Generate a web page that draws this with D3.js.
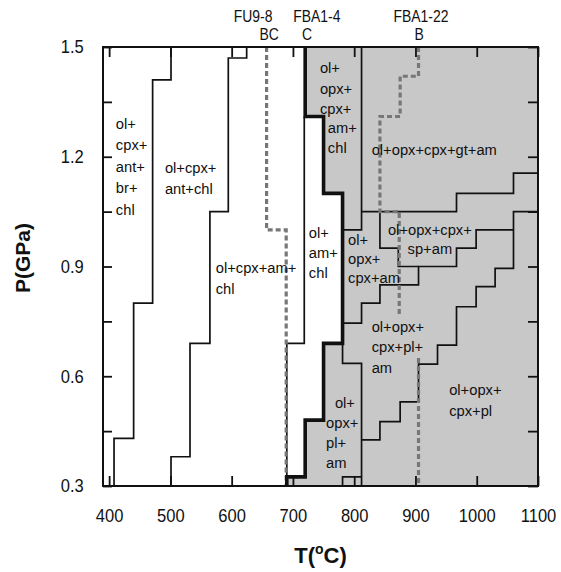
<!DOCTYPE html>
<html>
<head>
<meta charset="utf-8">
<script src="https://cdn.jsdelivr.net/npm/d3@7"></script>
<style>
  html, body { margin: 0; padding: 0; background: #fff; }
  svg { display: block; font-family: "Liberation Sans", Arial, Helvetica, sans-serif; }
</style>
</head>
<body>
<svg id="chart" width="561" height="572"></svg>
<script>
// Axis ticks
const tempTicks = [400, 500, 600, 700, 800, 900, 1000, 1100];
const presTicks = [0.3, 0.45, 0.6, 0.75, 0.9, 1.05, 1.2, 1.35, 1.5];
const presLabelled = [0.3, 0.6, 0.9, 1.2, 1.5];

// Phase boundaries, [T (°C), P (GPa)]
const brAntBoundary = [[501, 1.5], [501, 1.41], [471, 1.41], [471, 0.8], [440, 0.8], [440, 0.43], [408, 0.43], [408, 0.3]];
const antOutBoundary = [[624.5, 1.5], [624.5, 1.47], [594.5, 1.47], [594.5, 1.05], [564.5, 1.05], [564.5, 0.69], [532, 0.69], [532, 0.38], [501, 0.38], [501, 0.3]];
const cpxOutBoundary = [[718.5, 1.31], [718.5, 0.69], [690, 0.69], [690, 0.3]];
const opxInBoundary = [[720, 1.5], [720, 1.31], [750, 1.31], [750, 1.10], [781, 1.10], [781, 0.69], [750, 0.69], [750, 0.48], [720, 0.48], [720, 0.325], [690, 0.325], [690, 0.3]];
const chlOutBoundary = [[812, 1.5], [812, 1.0], [781, 1.0]];
const gtInBoundary = [[812, 1.05], [967, 1.05], [967, 1.10], [1060, 1.10], [1060, 1.155], [1100, 1.155]];
const spAmBoundary = [[842, 1.05], [842, 0.95], [872, 0.95], [872, 0.90], [905, 0.90]];
const plInBoundary = [[1060, 1.0], [999, 1.0], [999, 0.95], [967, 0.95], [967, 0.90], [905, 0.90], [905, 0.85], [842, 0.85], [842, 0.80], [812, 0.80], [812, 0.745], [781, 0.745]];
const amOutBoundary = [[1100, 1.05], [1060, 1.05], [1060, 0.895], [1030, 0.895], [1030, 0.845], [999, 0.845], [999, 0.79], [967, 0.79], [967, 0.685], [936, 0.685], [936, 0.633], [905, 0.633], [905, 0.53], [875, 0.53], [875, 0.476], [842, 0.476], [842, 0.426], [812, 0.426]];
const cpxInBoundary = [[781, 0.69], [781, 0.635], [812, 0.635], [812, 0.3]];
const cpxInFoot = [[781, 0.3], [781, 0.325], [812, 0.325]];

// Sample paths (dashed)
const pathFU98 = [[657, 1.5], [657, 1.0], [689, 1.0], [689, 0.3]];
const pathFBA122upper = [[905, 1.5], [905, 1.42], [875, 1.42], [875, 1.31], [842, 1.31], [842, 1.05], [873.5, 1.05], [873.5, 0.77]];
const pathFBA122lower = [[905, 0.65], [905, 0.3]];

// Sample names above the frame
const sampleNames = [
  { text: "FU9-8", T: 635, row: 0 },
  { text: "BC", T: 661, row: 1 },
  { text: "FBA1-4", T: 739, row: 0 },
  { text: "C", T: 723, row: 1 },
  { text: "FBA1-22", T: 909, row: 0 },
  { text: "B", T: 906, row: 1 }
];

// Assemblage labels, anchored at the first baseline in (T, P)
const fieldLabels = [
  { lines: ["ol+", "cpx+", "ant+", "br+", "chl"], T: 411, P: 1.276, gap: 21.5, anchor: "start" },
  { lines: ["ol+cpx+", "ant+chl"], T: 491, P: 1.156, gap: 21.5, anchor: "start" },
  { lines: ["ol+cpx+am+", "chl"], T: 574, P: 0.881, gap: 20.5, anchor: "start" },
  { lines: ["ol+", "opx+", "cpx+"], T: 744, P: 1.428, gap: 20.3, anchor: "start" },
  { lines: ["am+", "chl"], T: 757, P: 1.264, gap: 20, anchor: "start" },
  { lines: ["ol+", "am+", "chl"], T: 726, P: 0.977, gap: 20, anchor: "start" },
  { lines: ["ol+", "opx+", "cpx+am"], T: 790, P: 0.959, gap: 19, anchor: "start" },
  { lines: ["ol+opx+cpx+gt+am"], T: 828.5, P: 1.205, gap: 20, anchor: "start" },
  { lines: ["ol+opx+cpx+", "sp+am"], T: 923.5, P: 0.986, gap: 19, anchor: "middle" },
  { lines: ["ol+opx+", "cpx+pl+", "am"], T: 828.5, P: 0.722, gap: 20.5, anchor: "start" },
  { lines: ["ol+opx+", "cpx+pl"], T: 955, P: 0.549, gap: 21, anchor: "start" },
  { lines: ["ol+"], T: 768.5, P: 0.512, gap: 20, anchor: "start" },
  { lines: ["opx+", "pl+", "am"], T: 754, P: 0.458, gap: 20, anchor: "start" }
];

const svg = d3.select("#chart");
const plotLeft = 103, plotRight = 538, plotTop = 47, plotBottom = 486;

const x = d3.scaleLinear().domain([390, 1100]).range([plotLeft, plotRight]);
const y = d3.scaleLinear().domain([0.3, 1.5]).range([plotBottom, plotTop]);

const line = d3.line().x(d => x(d[0])).y(d => y(d[1]));

// Shaded field: everything on the high-temperature side of the opx-in boundary
const shaded = opxInBoundary.concat([[1100, 0.3], [1100, 1.5]]);
svg.append("path")
  .attr("d", line(shaded) + "Z")
  .attr("fill", "#c8c8c8");

// Thin boundaries
const thin = [brAntBoundary, antOutBoundary, cpxOutBoundary, chlOutBoundary, gtInBoundary,
  spAmBoundary, plInBoundary, amOutBoundary, cpxInBoundary, cpxInFoot];
svg.append("g").selectAll("path").data(thin).join("path")
  .attr("d", line)
  .attr("fill", "none")
  .attr("stroke", "#111")
  .attr("stroke-width", 1.7);

// Sample paths
svg.append("g").selectAll("path").data([pathFU98, pathFBA122upper, pathFBA122lower]).join("path")
  .attr("d", line)
  .attr("fill", "none")
  .attr("stroke", "#777")
  .attr("stroke-width", 3.2)
  .attr("stroke-dasharray", "5,3");

// Thick boundary
svg.append("path")
  .attr("d", line(opxInBoundary))
  .attr("fill", "none")
  .attr("stroke", "#111")
  .attr("stroke-width", 3.6);

// Frame
svg.append("rect")
  .attr("x", plotLeft).attr("y", plotTop)
  .attr("width", plotRight - plotLeft).attr("height", plotBottom - plotTop)
  .attr("fill", "none")
  .attr("stroke", "#111")
  .attr("stroke-width", 2);

// Axes with inward ticks
const tickStyle = g => {
  g.select(".domain").remove();
  g.selectAll(".tick line").attr("stroke", "#111").attr("stroke-width", 1.8);
};

svg.append("g")
  .attr("transform", `translate(0,${plotBottom})`)
  .call(d3.axisBottom(x).tickValues(tempTicks).tickSize(-10).tickPadding(23).tickFormat(d3.format("d")))
  .call(tickStyle)
  .call(g => g.selectAll("text")
    .attr("font-size", 18)
    .attr("fill", "#111")
    .attr("font-family", "Liberation Sans, Arial, sans-serif")
    .attr("transform", "scale(0.92,1)"));

svg.append("g")
  .attr("transform", `translate(0,${plotTop})`)
  .call(d3.axisTop(x).tickValues(tempTicks).tickSize(-10).tickFormat(""))
  .call(tickStyle);

svg.append("g")
  .attr("transform", `translate(${plotLeft},0)`)
  .call(d3.axisLeft(y).tickValues(presTicks).tickSize(-9).tickPadding(21)
    .tickFormat(d => presLabelled.some(v => Math.abs(v - d) < 1e-9) ? d3.format(".1f")(d) : ""))
  .call(tickStyle)
  .call(g => g.selectAll("text")
    .attr("font-size", 18)
    .attr("fill", "#111")
    .attr("font-family", "Liberation Sans, Arial, sans-serif")
    .attr("transform", "scale(0.92,1)"));

svg.append("g")
  .attr("transform", `translate(${plotRight},0)`)
  .call(d3.axisRight(y).tickValues(presTicks).tickSize(-10).tickFormat(""))
  .call(tickStyle);

// Axis titles
svg.append("text")
  .attr("transform", `translate(30,258) rotate(-90)`)
  .attr("text-anchor", "middle")
  .attr("font-size", 21)
  .attr("font-weight", "bold")
  .attr("fill", "#111")
  .text("P(GPa)");

const xt = svg.append("text")
  .attr("x", (plotLeft + plotRight) / 2)
  .attr("y", 563)
  .attr("text-anchor", "middle")
  .attr("font-size", 22)
  .attr("font-weight", "bold")
  .attr("fill", "#111");
xt.append("tspan").text("T(");
xt.append("tspan").attr("font-size", 14).attr("dy", -9).text("o");
xt.append("tspan").attr("dy", 9).text("C)");

// Sample names
const rowBase = [21.5, 40];
svg.append("g").selectAll("text").data(sampleNames).join("text")
  .attr("transform", d => `translate(${x(d.T)},${rowBase[d.row]}) scale(0.87,1)`)
  .attr("text-anchor", "middle")
  .attr("font-size", 16)
  .attr("fill", "#111")
  .text(d => d.text);

// Field labels
const lab = svg.append("g").selectAll("text").data(fieldLabels).join("text")
  .attr("transform", d => `translate(${x(d.T)},${y(d.P)}) scale(0.95,1)`)
  .attr("text-anchor", d => d.anchor)
  .attr("font-size", 15.5)
  .attr("fill", "#111");
lab.each(function(d) {
  const t = d3.select(this);
  d.lines.forEach((s, i) => {
    t.append("tspan").attr("x", 0).attr("dy", i ? d.gap : 0).text(s);
  });
});
</script>
</body>
</html>
